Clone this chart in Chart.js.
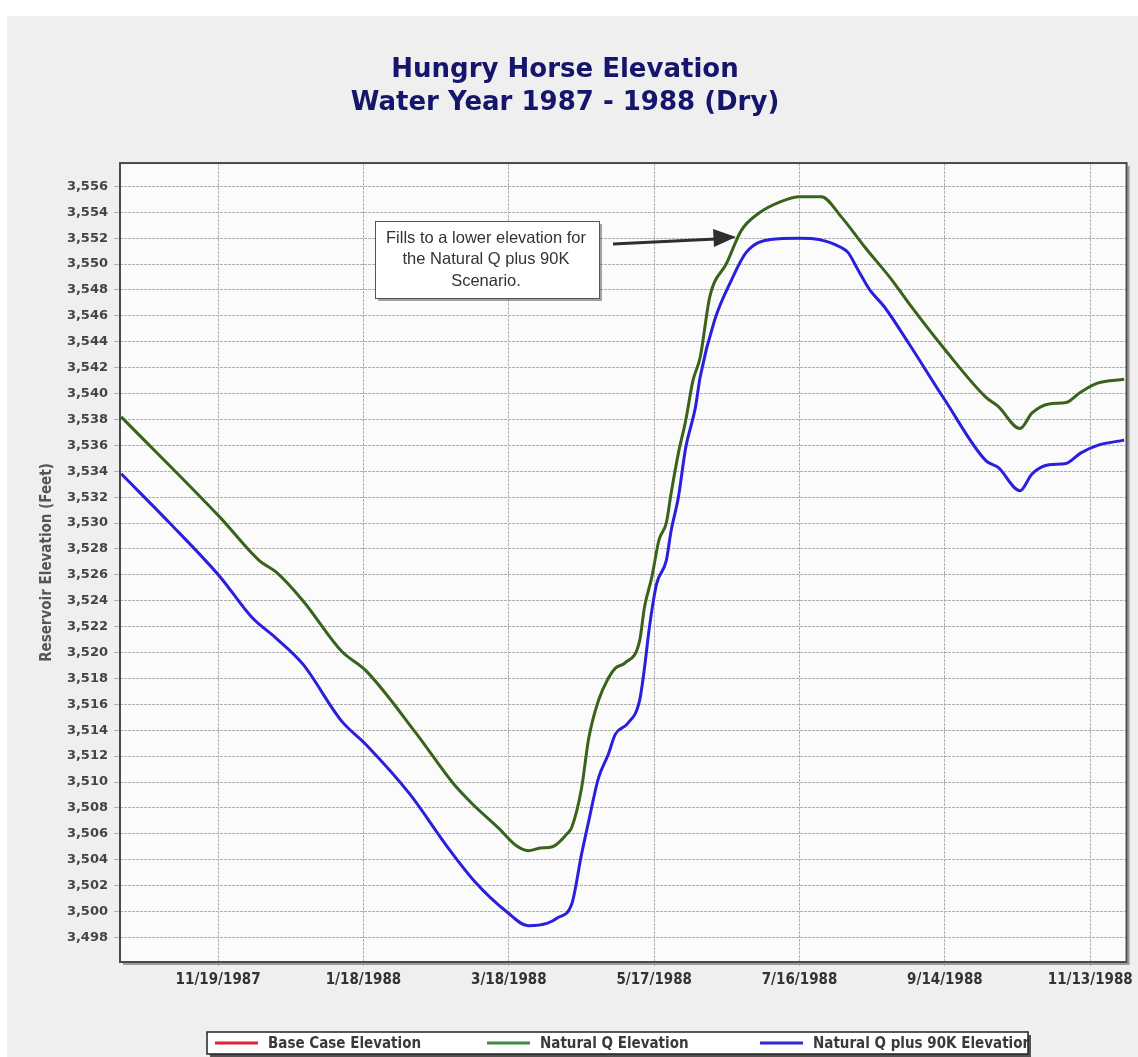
<!DOCTYPE html>
<html><head><meta charset="utf-8">
<script src="https://cdn.jsdelivr.net/npm/chart.js@4.4.1/dist/chart.umd.min.js"></script>
<style>html,body{margin:0;padding:0;background:#f0f0f0;overflow:hidden}#wrap{width:1138px;height:1057px;position:relative}</style>
</head><body><div id="wrap"><canvas id="c" width="1138" height="1057"></canvas></div>
<script>
const chartTitle = ['Hungry Horse Elevation', 'Water Year 1987 - 1988 (Dry)'];
const yAxisTitle = 'Reservoir Elevation (Feet)';
const xTickLabels = ['11/19/1987', '1/18/1988', '3/18/1988', '5/17/1988', '7/16/1988', '9/14/1988', '11/13/1988'];
const xRangeDates = ['1987-10-10', '1988-11-28'];
const yTickFirst = 3498, yTickLast = 3556, yTickStep = 2;
const yRange = [3496.1, 3557.8];
const seriesNames = ['Base Case Elevation', 'Natural Q Elevation', 'Natural Q plus 90K Elevation'];
const annotationLines = ['Fills to a lower elevation for', 'the Natural Q plus 90K', 'Scenario.'];

const baseCaseDates = [];
const baseCaseValues = [];

const naturalQDates = ['1987-10-10','1987-11-20','1987-12-06','1987-12-13','1987-12-24','1988-01-09','1988-01-19','1988-02-09','1988-02-24','1988-03-03','1988-03-14','1988-03-21','1988-03-26','1988-03-31','1988-04-05','1988-04-11','1988-04-13','1988-04-17','1988-04-20','1988-04-24','1988-04-28','1988-05-01','1988-05-05','1988-05-11','1988-05-13','1988-05-16','1988-05-19','1988-05-22','1988-05-24','1988-05-27','1988-05-30','1988-06-02','1988-06-05','1988-06-09','1988-06-16','1988-06-22','1988-06-29','1988-07-08','1988-07-16','1988-07-25','1988-08-02','1988-08-12','1988-08-23','1988-08-30','1988-09-14','1988-10-01','1988-10-06','1988-10-15','1988-10-20','1988-10-27','1988-11-03','1988-11-09','1988-11-16','1988-11-27'];
const naturalQValues = [3538.2,3530.4,3527.1,3526.2,3524.0,3520.1,3518.6,3513.7,3509.9,3508.3,3506.4,3505.1,3504.7,3504.9,3505.0,3506.0,3506.5,3509.5,3513.4,3516.3,3518.0,3518.8,3519.2,3520.9,3523.5,3525.8,3528.7,3530.0,3532.3,3535.4,3537.9,3541.0,3542.8,3547.5,3550.1,3552.6,3553.9,3554.8,3555.2,3555.2,3553.7,3551.3,3548.8,3547.0,3543.4,3539.7,3539.0,3537.3,3538.5,3539.2,3539.3,3540.1,3540.8,3541.1];

const plus90KDates = ['1987-10-10','1987-10-30','1987-11-20','1987-12-03','1987-12-13','1987-12-24','1988-01-09','1988-01-19','1988-02-06','1988-02-22','1988-03-04','1988-03-17','1988-03-26','1988-04-03','1988-04-07','1988-04-13','1988-04-17','1988-04-20','1988-04-24','1988-04-28','1988-05-01','1988-05-06','1988-05-11','1988-05-13','1988-05-15','1988-05-18','1988-05-22','1988-05-24','1988-05-27','1988-05-30','1988-06-03','1988-06-05','1988-06-11','1988-06-18','1988-06-24','1988-07-04','1988-07-16','1988-07-24','1988-08-02','1988-08-05','1988-08-09','1988-08-14','1988-08-20','1988-08-30','1988-09-14','1988-10-01','1988-10-06','1988-10-15','1988-10-20','1988-10-27','1988-11-03','1988-11-09','1988-11-16','1988-11-27'];
const plus90KValues = [3533.8,3530.0,3525.8,3522.7,3521.1,3519.1,3514.7,3512.9,3509.1,3504.9,3502.3,3500.0,3498.9,3499.1,3499.5,3500.6,3504.4,3507.0,3510.3,3512.1,3513.7,3514.5,3516.3,3518.8,3521.9,3525.3,3527.1,3529.4,3532.0,3535.8,3538.9,3541.3,3545.7,3548.8,3550.9,3551.9,3552.0,3551.9,3551.3,3550.9,3549.6,3548.0,3546.7,3543.9,3539.5,3534.8,3534.3,3532.5,3533.8,3534.5,3534.6,3535.4,3536.0,3536.4];

function dayNum(s){const p=s.split('-').map(Number);return Date.UTC(p[0],p[1]-1,p[2])/86400000;}
function dayFromMDY(s){const p=s.split('/').map(Number);return Date.UTC(p[2],p[0]-1,p[1])/86400000;}
function pts(dates, vals){return dates.map((d,i)=>({x:dayNum(d),y:vals[i]}));}

const FONT_BOLD = '"DejaVu Sans", Verdana, sans-serif';
const FONT_COND = '"DejaVu Sans Condensed", "DejaVu Sans", sans-serif';

const bgPlugin = {
  id:'bg',
  beforeDraw(chart){
    const ctx=chart.ctx, a=chart.chartArea;
    ctx.save();
    ctx.fillStyle='#ffffff'; ctx.fillRect(0,0,chart.width,chart.height);
    ctx.fillStyle='#efefef'; ctx.fillRect(7,16,chart.width-7,chart.height-16);
    ctx.fillStyle='#fbfbfb'; ctx.fillRect(a.left,a.top,a.right-a.left,a.bottom-a.top);
    ctx.restore();
  }
};

const overlayPlugin = {
  id:'overlay',
  afterDraw(chart){
    const ctx=chart.ctx, a=chart.chartArea;
    ctx.save();
    // frame shadow
    ctx.strokeStyle='#9a9a9a'; ctx.lineWidth=2;
    ctx.beginPath(); ctx.moveTo(a.right+2,a.top+3); ctx.lineTo(a.right+2,a.bottom+2); ctx.lineTo(a.left+3,a.bottom+2); ctx.stroke();
    ctx.strokeStyle='#4a4a4a'; ctx.lineWidth=2;
    ctx.strokeRect(a.left,a.top,a.right-a.left,a.bottom-a.top);

    // annotation box
    const bx=375, by=221, bw=224, bh=77;
    ctx.fillStyle='rgba(90,90,90,0.55)'; ctx.fillRect(bx+3,by+3,bw,bh);
    ctx.fillStyle='#ffffff'; ctx.fillRect(bx,by,bw,bh);
    ctx.strokeStyle='#555'; ctx.lineWidth=1; ctx.strokeRect(bx+0.5,by+0.5,bw,bh);
    ctx.fillStyle='#333333'; ctx.font='16.5px "Liberation Sans", Arial, sans-serif';
    ctx.textAlign='center'; ctx.textBaseline='middle';
    annotationLines.forEach((t,i)=>ctx.fillText(t,bx+bw/2-1,238+i*21.5));
    // arrow
    ctx.strokeStyle='#2e2e2e'; ctx.fillStyle='#2e2e2e'; ctx.lineWidth=3;
    ctx.beginPath(); ctx.moveTo(613,244); ctx.lineTo(716,239); ctx.stroke();
    ctx.beginPath(); ctx.moveTo(736,237); ctx.lineTo(713,229); ctx.lineTo(714,247); ctx.closePath(); ctx.fill();

    // legend
    const lx=207, ly=1032, lw=821, lh=22;
    ctx.fillStyle='#555'; ctx.fillRect(lx+3,ly+3,lw,lh);
    ctx.fillStyle='#ffffff'; ctx.fillRect(lx,ly,lw,lh);
    ctx.save();
    ctx.beginPath(); ctx.rect(lx,ly,lw,lh); ctx.clip();
    const itemX=[215,487,760];
    ctx.font='bold 15px '+FONT_COND; ctx.textAlign='left'; ctx.textBaseline='middle';
    chart.data.datasets.forEach((ds,i)=>{
      ctx.strokeStyle=ds.legendColor; ctx.lineWidth=3;
      ctx.beginPath(); ctx.moveTo(itemX[i],ly+lh/2); ctx.lineTo(itemX[i]+43,ly+lh/2); ctx.stroke();
      ctx.fillStyle='#3a3a3a'; ctx.fillText(ds.label,itemX[i]+53,ly+lh/2+1);
    });
    ctx.restore();
    ctx.strokeStyle='#222'; ctx.lineWidth=1.5; ctx.strokeRect(lx,ly,lw,lh);
    ctx.restore();
  }
};

const ctx=document.getElementById('c').getContext('2d');
new Chart(ctx,{
  type:'line',
  data:{datasets:[
    {label:seriesNames[0],data:pts(baseCaseDates,baseCaseValues),borderColor:'#d81f3a',legendColor:'#e0203c',borderWidth:3,pointRadius:0},
    {label:seriesNames[1],data:pts(naturalQDates,naturalQValues),borderColor:'#39631a',legendColor:'#3f8a3c',borderWidth:3,pointRadius:0,cubicInterpolationMode:'monotone'},
    {label:seriesNames[2],data:pts(plus90KDates,plus90KValues),borderColor:'#2a1fdc',legendColor:'#2f2bd0',borderWidth:3,pointRadius:0,cubicInterpolationMode:'monotone'}
  ]},
  options:{
    responsive:false, animation:false, devicePixelRatio:1,
    layout:{padding:{left:0,top:0,right:8,bottom:55}},
    plugins:{
      legend:{display:false}, tooltip:{enabled:false},
      title:{display:true,text:chartTitle,color:'#15156b',font:{family:FONT_BOLD,size:26,weight:'bold',lineHeight:1.27},padding:{top:54,bottom:43}}
    },
    scales:{
      x:{type:'linear',min:dayNum(xRangeDates[0])-0.5,max:dayNum(xRangeDates[1]),
        afterBuildTicks(s){s.ticks=xTickLabels.map(l=>({value:dayFromMDY(l)}));},
        afterFit(s){s.height=40;},
        ticks:{autoSkip:false,maxRotation:0,padding:5,color:'#333',font:{family:FONT_COND,size:15,weight:'bold'},callback:(v,i)=>xTickLabels[i]},
        grid:{color:'#b0b0b0',lineWidth:1,tickLength:4,drawTicks:true},
        border:{display:false,dash:[3,1]}
      },
      y:{type:'linear',min:yRange[0],max:yRange[1],
        afterBuildTicks(s){const t=[];for(let v=yTickFirst;v<=yTickLast;v+=yTickStep)t.push({value:v});s.ticks=t;},
        afterFit(s){s.width=120;},
        ticks:{padding:6,color:'#444',font:{family:FONT_BOLD,size:13,weight:'bold'},callback:v=>v.toLocaleString('en-US')},
        grid:{color:'#b0b0b0',lineWidth:1,tickLength:6},
        border:{display:false,dash:[3,1]},
        title:{display:true,text:yAxisTitle,color:'#555',font:{family:FONT_COND,size:15,weight:'bold'},padding:{top:38,bottom:0}}
      }
    }
  },
  plugins:[bgPlugin,overlayPlugin]
});
</script></body></html>
